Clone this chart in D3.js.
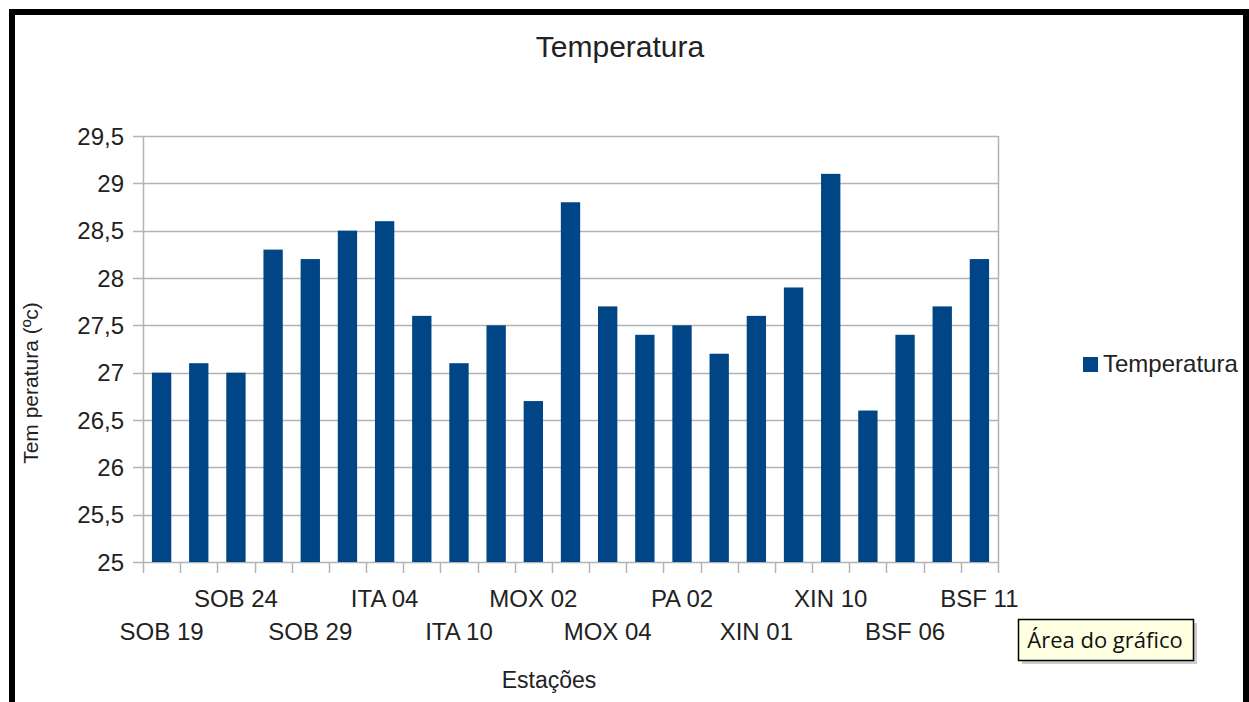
<!DOCTYPE html>
<html>
<head>
<meta charset="utf-8">
<script src="https://cdn.jsdelivr.net/npm/d3@7"></script>
<style>
  body { margin: 0; background: #fff; }
  svg { display: block; font-family: "Liberation Sans", Arial, sans-serif; }
</style>
</head>
<body>
<div id="chart"></div>
<script>
// estações (only every second label is drawn in the original)
const stations = ["SOB 19", "", "SOB 24", "", "SOB 29", "", "ITA 04", "", "ITA 10", "", "MOX 02", "",
                  "MOX 04", "", "PA 02", "", "XIN 01", "", "XIN 10", "", "BSF 06", "", "BSF 11"];
const temps = [27, 27.1, 27, 28.3, 28.2, 28.5, 28.6, 27.6, 27.1, 27.5, 26.7, 28.8,
               27.7, 27.4, 27.5, 27.2, 27.6, 27.9, 29.1, 26.6, 27.4, 27.7, 28.2];
const yTicks = [25, 25.5, 26, 26.5, 27, 27.5, 28, 28.5, 29, 29.5];

const width = 1249, height = 702;
const plot = {left: 143, right: 998, top: 136, bottom: 562};
const barColor = "#004586";
const gridColor = "#b3b3b3";
const fmt = d => String(d).replace(".", ",");

const svg = d3.select("#chart").append("svg")
    .attr("width", width)
    .attr("height", height);

// black frame round the screenshot
svg.append("rect")
    .attr("x", 12).attr("y", 12)
    .attr("width", 1234).attr("height", 720)
    .attr("fill", "#fff")
    .attr("stroke", "#000")
    .attr("stroke-width", 6);

const x = d3.scaleBand()
    .domain(d3.range(temps.length))
    .range([plot.left, plot.right])
    .paddingInner(0.48)
    .paddingOuter(0.24);

const y = d3.scaleLinear()
    .domain([25, 29.5])
    .range([plot.bottom, plot.top]);

// grid
svg.append("g")
    .selectAll("line")
    .data(yTicks)
    .join("line")
      .attr("x1", plot.left - 10)
      .attr("x2", plot.right)
      .attr("y1", d => Math.round(y(d)) + 0.5)
      .attr("y2", d => Math.round(y(d)) + 0.5)
      .attr("stroke", gridColor)
      .attr("stroke-width", 1.5);

// plot area right edge + y axis line
svg.append("line")
    .attr("x1", plot.right + 0.5).attr("x2", plot.right + 0.5)
    .attr("y1", plot.top).attr("y2", plot.bottom + 11)
    .attr("stroke", gridColor).attr("stroke-width", 1.5);
svg.append("line")
    .attr("x1", plot.left + 0.5).attr("x2", plot.left + 0.5)
    .attr("y1", plot.top).attr("y2", plot.bottom + 11)
    .attr("stroke", gridColor).attr("stroke-width", 1.5);

// x ticks at category boundaries
svg.append("g")
    .selectAll("line")
    .data(d3.range(1, temps.length))
    .join("line")
      .attr("x1", i => Math.round(plot.left + i * (plot.right - plot.left) / temps.length) + 0.5)
      .attr("x2", i => Math.round(plot.left + i * (plot.right - plot.left) / temps.length) + 0.5)
      .attr("y1", plot.bottom)
      .attr("y2", plot.bottom + 11)
      .attr("stroke", gridColor)
      .attr("stroke-width", 1.5);

// bars
svg.append("g")
    .selectAll("rect")
    .data(temps)
    .join("rect")
      .attr("x", (d, i) => x(i))
      .attr("y", d => y(d))
      .attr("width", x.bandwidth())
      .attr("height", d => y(25) - y(d))
      .attr("fill", barColor);

// y tick labels
svg.append("g")
    .attr("font-size", 24)
    .attr("fill", "#222")
    .attr("text-anchor", "end")
    .selectAll("text")
    .data(yTicks)
    .join("text")
      .attr("x", 124)
      .attr("y", d => y(d))
      .attr("dy", "0.36em")
      .text(fmt);

// x labels, staggered in two rows
svg.append("g")
    .attr("font-size", 24)
    .attr("fill", "#222")
    .attr("text-anchor", "middle")
    .selectAll("text")
    .data(stations.map((s, i) => ({s, i})).filter(d => d.s))
    .join("text")
      .attr("x", d => x(d.i) + x.bandwidth() / 2)
      .attr("y", d => (d.i % 4 === 2) ? 607 : 640)
      .text(d => d.s);

// title
svg.append("text")
    .attr("x", 620).attr("y", 57)
    .attr("text-anchor", "middle")
    .attr("font-size", 30)
    .attr("fill", "#222")
    .text("Temperatura");

// axis titles
svg.append("text")
    .attr("x", 549).attr("y", 688)
    .attr("text-anchor", "middle")
    .attr("font-size", 23)
    .attr("fill", "#222")
    .text("Estações");

svg.append("text")
    .attr("transform", "translate(38,383) rotate(-90)")
    .attr("text-anchor", "middle")
    .attr("font-size", 21)
    .attr("fill", "#222")
    .text("Tem peratura (ºc)");

// legend
const legend = svg.append("g").attr("transform", "translate(1083,357)");
legend.append("rect")
    .attr("width", 15).attr("height", 15)
    .attr("fill", barColor);
legend.append("text")
    .attr("x", 20).attr("y", 15)
    .attr("font-size", 24)
    .attr("fill", "#222")
    .text("Temperatura");

// tooltip "Área do gráfico"
const tip = svg.append("g").attr("transform", "translate(1018,619)");
tip.append("rect")
    .attr("x", 4).attr("y", 4)
    .attr("width", 175).attr("height", 41)
    .attr("fill", "#999").attr("opacity", 0.5);
tip.append("rect")
    .attr("x", 0.5).attr("y", 0.5)
    .attr("width", 175).attr("height", 41)
    .attr("fill", "#ffffe1")
    .attr("stroke", "#000")
    .attr("stroke-width", 1.5);
tip.append("text")
    .attr("x", 87).attr("y", 29)
    .attr("text-anchor", "middle")
    .attr("font-family", "'Open Sans', 'DejaVu Sans', sans-serif")
    .attr("font-size", 22)
    .attr("fill", "#111")
    .text("Área do gráfico");
</script>
</body>
</html>
